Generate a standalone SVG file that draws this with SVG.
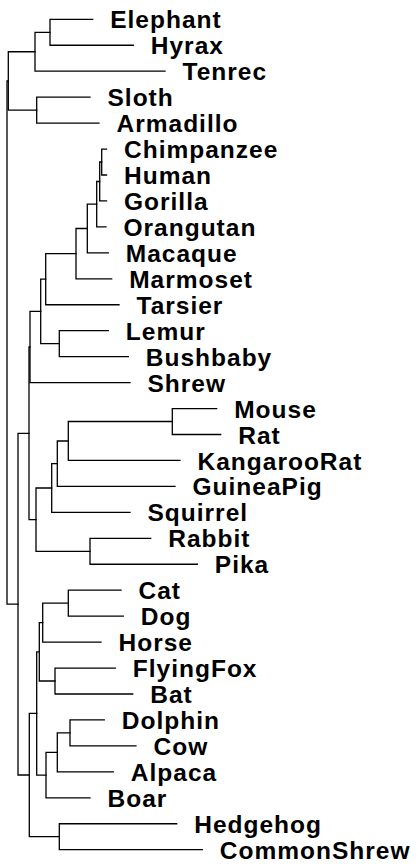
<svg xmlns="http://www.w3.org/2000/svg" width="419" height="864" viewBox="0 0 419 864">
<style>
.e{fill:none;stroke:#000;stroke-width:1.3;stroke-linejoin:miter;stroke-linecap:square}
.t{font-family:"Liberation Sans",Arial,sans-serif;font-weight:bold;font-size:24.5px;letter-spacing:1px;fill:#000}
</style>
<rect width="419" height="864" fill="#fff"/>
<g id="connectors">
<path class="e" d="M 92.7,19.3 H 50 V 45.25 H 133.3"/>
<path class="e" d="M 50,32.3 H 35 V 71.2 H 165"/>
<path class="e" d="M 90,97.15 H 36.7 V 123.1 H 99"/>
<path class="e" d="M 35,51.75 H 8.3 V 110.1 H 36.7"/>
<path class="e" d="M 106.5,149.05 H 101.7 V 175 H 106.5"/>
<path class="e" d="M 101.7,162 H 99.7 V 200.95 H 106.5"/>
<path class="e" d="M 99.7,181.5 H 96.7 V 226.9 H 106"/>
<path class="e" d="M 96.7,204.2 H 87.3 V 252.85 H 108.3"/>
<path class="e" d="M 87.3,228.5 H 76 V 278.8 H 111.7"/>
<path class="e" d="M 76,253.65 H 45.7 V 304.75 H 119"/>
<path class="e" d="M 108.3,330.7 H 59.3 V 356.65 H 128.3"/>
<path class="e" d="M 45.7,279.2 H 40.7 V 343.7 H 59.3"/>
<path class="e" d="M 40.7,311.45 H 30 V 382.6 H 130"/>
<path class="e" d="M 216.7,408.55 H 172.3 V 434.5 H 220.7"/>
<path class="e" d="M 172.3,421.5 H 68.3 V 460.45 H 180"/>
<path class="e" d="M 68.3,441 H 57.3 V 486.4 H 175"/>
<path class="e" d="M 57.3,463.7 H 51.7 V 512.35 H 130"/>
<path class="e" d="M 150.7,538.3 H 90 V 564.25 H 197.3"/>
<path class="e" d="M 51.7,488 H 36 V 551.3 H 90"/>
<path class="e" d="M 30,347 H 29 V 519.6 H 36"/>
<path class="e" d="M 121,590.2 H 68.3 V 616.15 H 123.3"/>
<path class="e" d="M 68.3,603.2 H 42.7 V 642.1 H 101"/>
<path class="e" d="M 115.3,668.05 H 55 V 694 H 132.7"/>
<path class="e" d="M 42.7,622.6 H 39.3 V 681 H 55"/>
<path class="e" d="M 104.3,719.95 H 70 V 745.9 H 136"/>
<path class="e" d="M 70,732.9 H 57.3 V 771.85 H 113.3"/>
<path class="e" d="M 57.3,752.4 H 46 V 797.8 H 90"/>
<path class="e" d="M 39.3,651.8 H 36.7 V 775.1 H 46"/>
<path class="e" d="M 176.7,823.75 H 59.3 V 849.7 H 202.3"/>
<path class="e" d="M 36.7,713.4 H 29.3 V 836.7 H 59.3"/>
<path class="e" d="M 29,433.3 H 18 V 775 H 29.3"/>
<path class="e" d="M 8.3,81 H 7 V 604.2 H 18"/>
</g>
<g id="n-elephant"><text class="t" x="110.2" y="28.3">Elephant</text></g>
<g id="n-hyrax"><text class="t" x="150.8" y="54.2">Hyrax</text></g>
<g id="n-tenrec"><text class="t" x="182.5" y="80.2">Tenrec</text></g>
<g id="n-sloth"><text class="t" x="107.5" y="106.2">Sloth</text></g>
<g id="n-armadillo"><text class="t" x="116.5" y="132.1">Armadillo</text></g>
<g id="n-chimpanzee"><text class="t" x="124" y="158">Chimpanzee</text></g>
<g id="n-human"><text class="t" x="124" y="184">Human</text></g>
<g id="n-gorilla"><text class="t" x="124" y="210">Gorilla</text></g>
<g id="n-orangutan"><text class="t" x="123.5" y="235.9">Orangutan</text></g>
<g id="n-macaque"><text class="t" x="125.8" y="261.9">Macaque</text></g>
<g id="n-marmoset"><text class="t" x="129.2" y="287.8">Marmoset</text></g>
<g id="n-tarsier"><text class="t" x="136.5" y="313.8">Tarsier</text></g>
<g id="n-lemur"><text class="t" x="125.8" y="339.7">Lemur</text></g>
<g id="n-bushbaby"><text class="t" x="145.8" y="365.7">Bushbaby</text></g>
<g id="n-shrew"><text class="t" x="147.5" y="391.6">Shrew</text></g>
<g id="n-mouse"><text class="t" x="234.2" y="417.6">Mouse</text></g>
<g id="n-rat"><text class="t" x="238.2" y="443.5">Rat</text></g>
<g id="n-kangaroorat"><text class="t" x="197.5" y="469.5">KangarooRat</text></g>
<g id="n-guineapig"><text class="t" x="192.5" y="495.4">GuineaPig</text></g>
<g id="n-squirrel"><text class="t" x="147.5" y="521.4">Squirrel</text></g>
<g id="n-rabbit"><text class="t" x="168.2" y="547.3">Rabbit</text></g>
<g id="n-pika"><text class="t" x="214.8" y="573.3">Pika</text></g>
<g id="n-cat"><text class="t" x="138.5" y="599.2">Cat</text></g>
<g id="n-dog"><text class="t" x="140.8" y="625.2">Dog</text></g>
<g id="n-horse"><text class="t" x="118.5" y="651.1">Horse</text></g>
<g id="n-flyingfox"><text class="t" x="132.8" y="677.1">FlyingFox</text></g>
<g id="n-bat"><text class="t" x="150.2" y="703">Bat</text></g>
<g id="n-dolphin"><text class="t" x="121.8" y="729">Dolphin</text></g>
<g id="n-cow"><text class="t" x="153.5" y="754.9">Cow</text></g>
<g id="n-alpaca"><text class="t" x="130.8" y="780.9">Alpaca</text></g>
<g id="n-boar"><text class="t" x="107.5" y="806.8">Boar</text></g>
<g id="n-hedgehog"><text class="t" x="194.2" y="832.8">Hedgehog</text></g>
<g id="n-commonshrew"><text class="t" x="219.8" y="858.7">CommonShrew</text></g>
</svg>
